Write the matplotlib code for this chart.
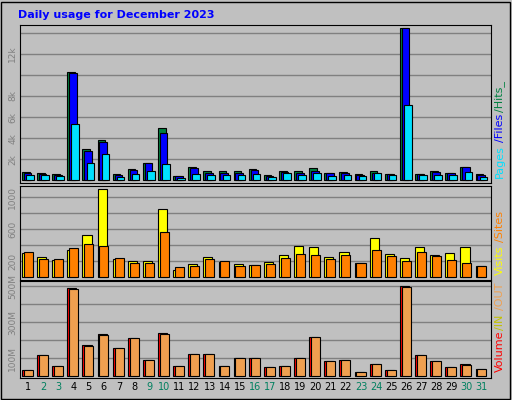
import numpy as np
from matplotlib import pyplot as plt
from matplotlib.patches import Rectangle

# daily values
days = np.arange(1, 32)
hits = [760, 670, 570, 10290, 2950, 3810, 570, 1050, 1620, 4950, 380, 1240, 860, 860, 860,
        1050, 480, 860, 860, 1140, 670, 760, 570, 860, 570, 14480, 570, 860, 670, 1240, 570]
files = [670, 570, 480, 10190, 2760, 3620, 480, 950, 1620, 4480, 380, 1140, 670, 670, 670,
         950, 380, 830, 670, 860, 670, 670, 480, 670, 570, 14480, 570, 760, 670, 1240, 480]
pages = [480, 480, 380, 5330, 1620, 2480, 290, 570, 860, 1520, 190, 570, 480, 480, 480,
         570, 290, 670, 480, 670, 380, 480, 380, 670, 480, 7140, 480, 480, 480, 760, 290]
visits = [300, 250, 213, 338, 525, 1100, 225, 200, 200, 850, 88, 163, 250, 188, 163,
          150, 188, 275, 388, 375, 250, 313, 175, 488, 288, 238, 375, 275, 300, 375, 138]
sites = [313, 225, 225, 363, 413, 388, 238, 175, 175, 563, 125, 138, 225, 200, 138,
         150, 163, 238, 288, 275, 225, 275, 175, 338, 263, 200, 313, 263, 213, 175, 138]
volume = [35, 119, 57, 491, 174, 235, 157, 213, 91, 241, 57, 124, 124, 57, 102,
          102, 52, 57, 102, 219, 85, 91, 24, 69, 35, 502, 119, 85, 52, 69, 41]
vol_out = [35, 119, 57, 485, 169, 230, 157, 213, 91, 235, 57, 124, 124, 57, 102,
           102, 52, 57, 102, 219, 85, 91, 24, 69, 35, 496, 119, 85, 52, 63, 41]
weekend = [2, 3, 9, 10, 16, 17, 23, 24, 30, 31]

W, H = 512, 400
fig = plt.figure(figsize=(W/100, H/100), dpi=100, facecolor='#C0C0C0')
fig.patches.append(Rectangle((1/W, 1/H), 1 - 3/W, 1 - 3/H, transform=fig.transFigure,
                             fill=False, ec='black', lw=1))
fig.text(18/W, 1 - 15/H, 'Daily usage for December 2023', color='#0000FF',
         fontsize=8, fontweight='bold', va='center', ha='left')

left, right = 20/W, 491/W
def make_ax(top, bottom):
    ax = fig.add_axes([left, 1 - bottom/H, right - left, (bottom - top)/H])
    ax.set_facecolor('#C0C0C0')
    ax.set_xlim(0.45, 31.6)
    ax.grid(axis='y', color='#808080', lw=1)
    ax.set_axisbelow(True)
    ax.tick_params(axis='y', length=0, labelsize=6.5, labelcolor='#808080', pad=2)
    for s in ax.spines.values():
        s.set_color('black')
    return ax

ec = dict(edgecolor='black', linewidth=0.8, align='edge')

# hits / files / pages
ax1 = make_ax(25, 183)
ax1.bar(days - 0.42, hits, 0.5, color='#008040', **ec)
ax1.bar(days - 0.3, files, 0.5, color='#0000FF', **ec)
ax1.bar(days - 0.15, pages, 0.5, color='#00E0FF', **ec)
ax1.set_ylim(-250, 14725)
ax1.set_yticks([2000, 4000, 6000, 8000, 10000, 12000, 14000])
ax1.set_yticklabels(['2k', '4k', '6k', '8k', '', '12k', ''], rotation=90, va='center')
ax1.set_xticks([])

# visits / sites
ax2 = make_ax(186, 280)
ax2.bar(days - 0.42, visits, 0.6, color='#FFFF00', **ec)
ax2.bar(days - 0.3, sites, 0.6, color='#FF8000', **ec)
ax2.set_ylim(-34, 1141)
ax2.set_yticks([200, 400, 600, 800, 1000])
ax2.set_yticklabels(['200', '', '600', '', '1000'], rotation=90, va='center')
ax2.set_xticks([])

# volume / out
ax3 = make_ax(281, 378)
ax3.bar(days - 0.42, volume, 0.6, color='#FF0000', **ec)
ax3.bar(days - 0.3, vol_out, 0.6, color='#F0A050', **ec)
ax3.set_ylim(-9, 530)
ax3.set_yticks([100, 200, 300, 400, 500])
ax3.set_yticklabels(['100M', '', '300M', '', '500M'], rotation=90, va='center')
ax3.set_xticks(days)
ax3.set_xticklabels([str(d) for d in days], fontsize=7)
ax3.tick_params(axis='x', length=0, pad=3)
for lab, d in zip(ax3.get_xticklabels(), days):
    lab.set_color('#00805F' if d in weekend else 'black')

# right side legends, rotated
def side_label(parts, x, y0):
    y = y0
    for txt, col, hgt in parts:
        fig.text(x/W, 1 - y/H, txt, color=col, rotation=90, fontsize=8,
                 ha='center', va='bottom')
        y -= hgt

side_label([('Pages', '#00E0FF', 36), ('/Files', '#0000FF', 30), ('/Hits_', '#008040', 30)], 500, 178)
side_label([('Visits', '#FFFF00', 33), ('/Sites', '#FF8000', 30)], 500, 275)
side_label([('Volume', '#FF0000', 42), ('/IN', '#C0C000', 20), ('/OUT', '#F0A050', 30)], 500, 372)

plt.savefig('out.png', dpi=100, facecolor=fig.get_facecolor())
